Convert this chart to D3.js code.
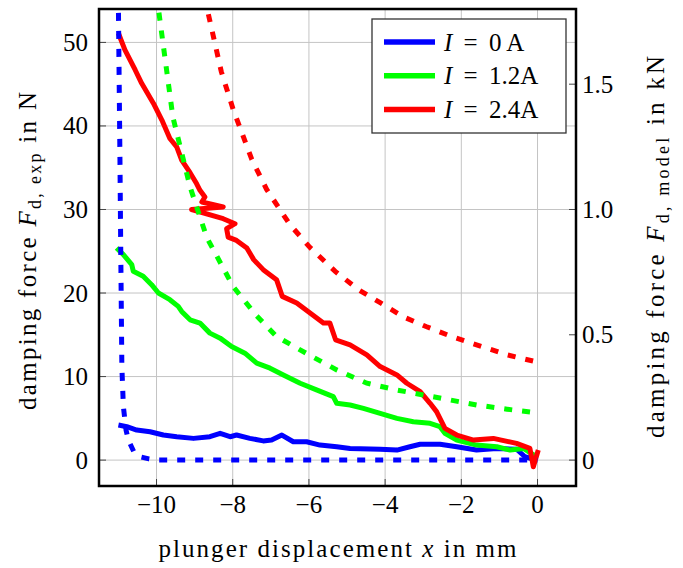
<!DOCTYPE html>
<html lang="en">
<head>
  <title>Damping force</title>
  <script src="https://d3js.org/d3.v7.min.js" charset="utf-8"></script>
  <style>
    body { margin: 0; background: #fff; }
    text { font-family: "Liberation Serif", "DejaVu Serif", serif; fill: #000; }
  </style>
</head>
<body>
<script>

  var width = 683, height = 568
  var pL = 99, pT = 9, pR = 576, pB = 486

  // measured damping force in N (left axis)
  var expI0 = [[-11.0,4.2],[-10.78,4.0],[-10.52,3.6],[-10.17,3.4],[-9.82,3.0],[-9.47,2.8],[-9.03,2.6],[-8.6,2.8],[-8.33,3.2],[-8.07,2.8],[-7.9,3.0],[-7.55,2.6],[-7.2,2.3],[-6.98,2.4],[-6.71,3.0],[-6.41,2.2],[-6.06,2.2],[-5.71,1.8],[-5.27,1.6],[-4.92,1.4],[-4.13,1.3],[-3.69,1.2],[-3.35,1.6],[-3.08,1.9],[-2.56,1.9],[-2.12,1.6],[-1.6,1.2],[-1.07,1.4],[-0.55,1.3],[-0.33,0.4],[-0.02,0.0]]
  var expI12 = [[-11.05,25.4],[-10.87,24.6],[-10.65,23.4],[-10.61,22.6],[-10.35,22.0],[-10.13,21.0],[-9.95,20.0],[-9.65,19.2],[-9.43,18.4],[-9.34,17.8],[-9.12,16.8],[-8.86,16.4],[-8.6,15.2],[-8.33,14.6],[-8.03,13.6],[-7.68,12.8],[-7.37,11.6],[-7.02,11.0],[-6.67,10.2],[-6.23,9.2],[-5.8,8.4],[-5.36,7.6],[-5.27,6.8],[-4.92,6.6],[-4.57,6.2],[-4.13,5.6],[-3.69,5.0],[-3.26,4.6],[-2.82,4.4],[-2.56,4.0],[-2.43,3.2],[-2.12,2.4],[-1.6,1.8],[-1.07,1.6],[-0.72,1.2],[-0.37,1.4],[-0.02,0.4]]
  var expI24 = [[-11.0,51.1],[-10.83,49.1],[-10.56,46.7],[-10.39,45.1],[-10.08,42.7],[-9.86,40.7],[-9.65,38.5],[-9.47,37.5],[-9.34,35.9],[-9.12,34.4],[-8.95,33.1],[-8.86,32.3],[-8.73,31.5],[-8.81,30.9],[-8.25,30.3],[-9.08,30.0],[-8.25,28.9],[-7.94,28.3],[-8.16,27.7],[-8.12,26.7],[-7.9,26.3],[-7.63,25.4],[-7.45,24.0],[-7.2,22.8],[-6.85,21.6],[-6.7,19.6],[-6.32,18.8],[-5.97,17.6],[-5.62,16.4],[-5.45,16.4],[-5.3,14.4],[-4.92,13.8],[-4.48,12.6],[-4.13,11.2],[-3.69,10.2],[-3.43,9.2],[-3.08,8.2],[-2.82,6.8],[-2.65,5.8],[-2.43,3.8],[-2.12,3.0],[-1.68,2.4],[-1.16,2.6],[-0.55,2.0],[-0.2,1.4],[-0.11,-0.8],[0.02,1.2]]

  // model damping force in kN (right axis)
  var modelI0 = [[-11.03,2.0],[-11.0,1.8],[-10.96,1.2],[-10.94,0.85],[-10.91,0.373],[-10.87,0.213],[-10.8,0.12],[-10.74,0.08],[-10.6,0.035],[-10.43,0.013],[-10.2,0.005],[-10.0,0],[0,0]]
  var modelI12 = [[-10.05,2.0],[-9.95,1.8],[-9.57,1.368],[-9.12,1.09],[-8.68,0.888],[-7.99,0.693],[-7.4,0.58],[-6.85,0.493],[-6.0,0.42],[-5.27,0.36],[-4.48,0.307],[-3.7,0.28],[-3.0,0.26],[-2.3,0.24],[-1.6,0.22],[-0.8,0.203],[0,0.188]]
  var modelI24 = [[-8.72,1.85],[-8.67,1.8],[-8.3,1.55],[-7.99,1.4],[-7.5,1.2],[-7.11,1.08],[-6.5,0.94],[-5.97,0.848],[-5.31,0.753],[-4.7,0.68],[-4.13,0.628],[-3.5,0.57],[-2.91,0.532],[-2.2,0.49],[-1.6,0.46],[-0.8,0.42],[0,0.391]]

  var xTicks = [-10, -8, -6, -4, -2, 0]
  var leftTicks = [0, 10, 20, 30, 40, 50]
  var rightTicks = [0, 0.5, 1.0, 1.5]
  var rightTickLabels = ["0", "0.5", "1.0", "1.5"]
  var legendLabels = ["0 A", "1.2A", "2.4A"]
  var colors = ["#0000ff", "#00ff00", "#ff0000"]

  var x = d3.scaleLinear().domain([-11.51, 1.01]).range([pL, pR])
  var yL = d3.scaleLinear().domain([-3.1, 54]).range([pB, pT])
  var yR = d3.scaleLinear().domain([-3.1 / 30, 54 / 30]).range([pB, pT])

  var svg = d3.select("body").append("svg")
              .attr("width", width)
              .attr("height", height)

  svg.append("clipPath").attr("id", "clip")
     .append("rect").attr("x", pL).attr("y", pT)
     .attr("width", pR - pL).attr("height", pB - pT)

  // grid
  var grid = svg.append("g").attr("stroke", "#c4c4c4").attr("stroke-width", 1)
  grid.selectAll(".gx").data(xTicks).enter().append("line")
      .attr("x1", d => x(d)).attr("x2", d => x(d))
      .attr("y1", pT).attr("y2", pB)
  grid.selectAll(".gy").data(leftTicks).enter().append("line")
      .attr("x1", pL).attr("x2", pR)
      .attr("y1", d => yL(d)).attr("y2", d => yL(d))

  // tick marks (inside)
  var ticks = svg.append("g").attr("stroke", "#444").attr("stroke-width", 1)
  ticks.selectAll(".tx").data(xTicks).enter().append("line")
       .attr("x1", d => x(d)).attr("x2", d => x(d))
       .attr("y1", pB).attr("y2", pB - 7)
  ticks.selectAll(".tl").data(leftTicks).enter().append("line")
       .attr("x1", pL).attr("x2", pL + 7)
       .attr("y1", d => yL(d)).attr("y2", d => yL(d))
  ticks.selectAll(".tr").data(rightTicks).enter().append("line")
       .attr("x1", pR - 7).attr("x2", pR)
       .attr("y1", d => yR(d)).attr("y2", d => yR(d))

  var plot = svg.append("g").attr("clip-path", "url(#clip)")

  var lineL = d3.line().x(d => x(d[0])).y(d => yL(d[1]))
  var lineR = d3.line().x(d => x(d[0])).y(d => yR(d[1]))

  ;[expI0, expI12, expI24].forEach(function(s, i){
    plot.append("path").attr("d", lineL(s))
        .attr("fill", "none").attr("stroke", colors[i])
        .attr("stroke-width", 5).attr("stroke-linejoin", "round")
  })
  ;[modelI0, modelI12, modelI24].forEach(function(s, i){
    plot.append("path").attr("d", lineR(s))
        .attr("fill", "none").attr("stroke", colors[i])
        .attr("stroke-width", 5).attr("stroke-dasharray", "8,10")
  })

  // frame
  svg.append("rect").attr("x", pL).attr("y", pT)
     .attr("width", pR - pL).attr("height", pB - pT)
     .attr("fill", "none").attr("stroke", "#000").attr("stroke-width", 2.5)

  // tick labels
  svg.append("g").selectAll("text").data(xTicks).enter().append("text")
     .attr("x", d => x(d)).attr("y", 513)
     .attr("text-anchor", "middle").attr("font-size", 25)
     .text(d => d < 0 ? "\u2212" + Math.abs(d) : d)
  svg.append("g").selectAll("text").data(leftTicks).enter().append("text")
     .attr("x", 88).attr("y", d => yL(d) + 8.5)
     .attr("text-anchor", "end").attr("font-size", 25)
     .text(d => d)
  svg.append("g").selectAll("text").data(rightTicks).enter().append("text")
     .attr("x", 582).attr("y", d => yR(d) + 8.5)
     .attr("font-size", 25)
     .text((d, i) => rightTickLabels[i])

  // axis titles
  var xt = svg.append("text").attr("x", (pL + pR) / 2).attr("y", 557)
              .attr("text-anchor", "middle").attr("font-size", 25)
              .attr("textLength", 358).attr("lengthAdjust", "spacing")
  xt.append("tspan").text("plunger displacement ")
  xt.append("tspan").attr("font-style", "italic").text("x")
  xt.append("tspan").text(" in mm")

  function yTitle(tx, ty, len, sub, unit){
    var t = svg.append("text").attr("font-size", 25).attr("text-anchor", "middle")
               .attr("transform", "translate(" + tx + "," + ty + ") rotate(-90)")
               .attr("textLength", len).attr("lengthAdjust", "spacing")
    t.append("tspan").text("damping force ")
    t.append("tspan").attr("font-style", "italic").text("F")
    t.append("tspan").attr("font-size", 18).attr("dy", 5).text(sub)
    t.append("tspan").attr("dy", -5).text(" in " + unit)
  }
  yTitle(36, 251, 318, "d, exp", "N")
  yTitle(664, 247, 382, "d, model", "kN")

  // legend
  var lg = svg.append("g")
  lg.append("rect").attr("x", 372).attr("y", 19).attr("width", 194).attr("height", 114)
    .attr("fill", "#fff").attr("stroke", "#333").attr("stroke-width", 1.3)
  legendLabels.forEach(function(lab, i){
    var yy = 42 + i * 33.8
    lg.append("line").attr("x1", 384).attr("x2", 435).attr("y1", yy).attr("y2", yy)
      .attr("stroke", colors[i]).attr("stroke-width", 5.5)
    var t = lg.append("text").attr("x", 444).attr("y", yy + 8.5).attr("font-size", 25)
    t.append("tspan").attr("font-style", "italic").text("I")
    t.append("tspan").text(" \u2009=\u2009 " + lab)
  })

</script>
</body>
</html>
